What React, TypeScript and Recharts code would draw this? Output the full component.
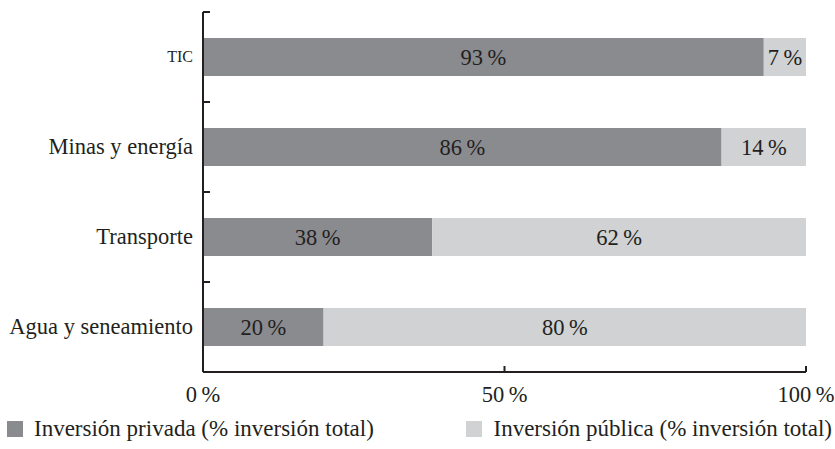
import { BarChart, Bar, XAxis, YAxis, Legend, LabelList } from 'recharts';

const categories = ['TIC', 'Minas y energía', 'Transporte', 'Agua y seneamiento'];
const privada = [93, 86, 38, 20];
const publica = [7, 14, 62, 80];
const xTicks = [0, 50, 100];

const seriesNames = ['Inversión privada (% inversión total)', 'Inversión pública (% inversión total)'];
const COLORS = ['#8a8b8f', '#d1d2d4'];
const INK = '#231f20';
const FONT = '"Liberation Serif", "DejaVu Serif", serif';

const W = 835;
const H = 449;
const MARGIN = { top: 12, right: 29, left: 0, bottom: 6 };
const X_AXIS_H = 35;
const LEGEND_H = 36;
const PLOT_H = H - MARGIN.top - MARGIN.bottom - X_AXIS_H - LEGEND_H;

const data = categories.map((name, i) => ({
  name,
  privada: privada[i],
  publica: publica[i],
}));

const YTick = (props: any) => {
  const { x, y, payload } = props;
  const band = PLOT_H / categories.length;
  const small = payload.value === 'TIC';
  return (
    <g>
      <line x1={x} x2={x + 7} y1={y - band / 2} y2={y - band / 2} stroke={INK} strokeWidth={2} />
      <text
        x={x - 10}
        y={y}
        dy={small ? 5 : 7}
        textAnchor="end"
        fill={INK}
        fontFamily={FONT}
        fontSize={small ? 16 : 22.5}
      >
        {payload.value}
      </text>
    </g>
  );
};

const XTick = (props: any) => {
  const { x, y, payload } = props;
  return (
    <g>
      {payload.value !== 0 && <line x1={x} x2={x} y1={y} y2={y - 6} stroke={INK} strokeWidth={2} />}
      <text x={x} y={y + 30} textAnchor="middle" fill={INK} fontFamily={FONT} fontSize={22.5}>
        {`${payload.value}\u2009%`}
      </text>
    </g>
  );
};

const LegendContent = (props: any) => {
  const { payload = [] } = props;
  return (
    <div
      style={{
        height: LEGEND_H,
        display: 'flex',
        justifyContent: 'space-between',
        alignItems: 'center',
        paddingLeft: 7,
        paddingRight: 3,
        paddingTop: 8,
        boxSizing: 'border-box',
      }}
    >
      {payload.map((entry: any) => (
        <div key={entry.value} style={{ display: 'flex', alignItems: 'center' }}>
          <span style={{ width: 16, height: 16, background: entry.color, marginRight: 11, display: 'inline-block' }} />
          <span style={{ fontFamily: FONT, fontSize: 23, color: INK, whiteSpace: 'nowrap' }}>{entry.value}</span>
        </div>
      ))}
    </div>
  );
};

const pct = (v: any) => `${v}\u2009%`;

export default function App() {
  return (
    <div style={{ position: 'fixed', left: 0, top: 0, width: W, height: H, background: '#fff' }}>
      <BarChart width={W} height={H} data={data} layout="vertical" margin={MARGIN} barSize={38}>
        <XAxis
          type="number"
          domain={[0, 100]}
          ticks={xTicks}
          height={X_AXIS_H}
          axisLine={{ stroke: INK, strokeWidth: 2 }}
          tickLine={false}
          tickSize={0}
          tickMargin={0}
          tick={XTick}
          interval={0}
        />
        <YAxis
          type="category"
          dataKey="name"
          width={203}
          axisLine={{ stroke: INK, strokeWidth: 2 }}
          tickLine={false}
          tickSize={0}
          tickMargin={0}
          tick={YTick}
          interval={0}
        />
        <Legend
          verticalAlign="bottom"
          height={LEGEND_H}
          content={LegendContent}
          wrapperStyle={{ left: 0, width: W }}
        />
        <Bar dataKey="privada" name={seriesNames[0]} stackId="a" fill={COLORS[0]} isAnimationActive={false}>
          <LabelList dataKey="privada" position="center" formatter={pct} fill={INK} fontFamily={FONT} fontSize={22.5} />
        </Bar>
        <Bar dataKey="publica" name={seriesNames[1]} stackId="a" fill={COLORS[1]} isAnimationActive={false}>
          <LabelList dataKey="publica" position="center" formatter={pct} fill={INK} fontFamily={FONT} fontSize={22.5} />
        </Bar>
      </BarChart>
    </div>
  );
}
